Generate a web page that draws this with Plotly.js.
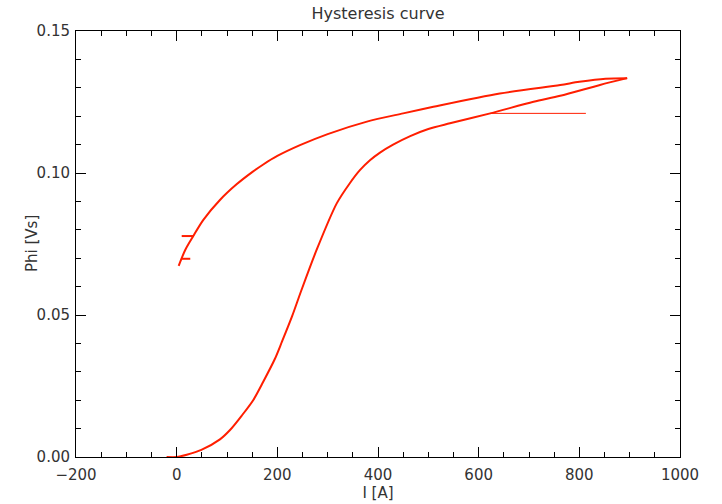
<!DOCTYPE html>
<html>
<head>
<meta charset="utf-8">
<script src="https://cdn.plot.ly/plotly-3.0.1.min.js"></script>
<style>html,body{margin:0;padding:0;background:#fff;}#chart{width:722px;height:504px;}</style>
</head>
<body>
<div id="chart"></div>
<script>
// Initial magnetisation branch (I [A], Phi [Vs])
const riseI   = [-20, 0, 20, 49, 86, 106, 129, 152, 172, 195, 209, 229, 248, 278, 318, 344, 364, 384, 404, 430, 464, 500, 543, 623, 709, 762, 841, 895];
const risePhi = [0, 0, 0.0008, 0.0025, 0.0062, 0.0095, 0.0145, 0.0200, 0.0265, 0.0345, 0.0405, 0.0494, 0.0588, 0.0729, 0.0893, 0.0964, 0.1010, 0.1045, 0.1072, 0.1100, 0.1130, 0.1155, 0.1175, 0.1210, 0.1251, 0.1272, 0.1310, 0.1334];
// Descending branch
const fallI   = [895, 852, 800, 762, 642, 510, 450, 378, 300, 245, 200, 172, 150, 119, 86, 53, 33, 17, 4];
const fallPhi = [0.1334, 0.1332, 0.1321, 0.1310, 0.1280, 0.1233, 0.1210, 0.1181, 0.1137, 0.1098, 0.1060, 0.1030, 0.1003, 0.0960, 0.0905, 0.0835, 0.0778, 0.0729, 0.0673];
// Small glitch segments
const glitch1I = [10, 33],  glitch1Phi = [0.0778, 0.0778];
const glitch2I = [10, 27],  glitch2Phi = [0.0698, 0.0698];
const flatI    = [623, 813], flatPhi   = [0.1210, 0.1210];
// Axis ticks
const xTicks = [-200, 0, 200, 400, 600, 800, 1000];
const yTicks = [0, 0.05, 0.10, 0.15];
const yTickText = ['0.00', '0.05', '0.10', '0.15'];

const red = 'rgb(255,30,0)';
const line = (x, y, w, shape) => ({x: x, y: y, type: 'scatter', mode: 'lines', line: {color: red, width: w, shape: shape || 'linear', smoothing: 0.8}, hoverinfo: 'skip', showlegend: false});

const data = [
  line(riseI, risePhi, 2, 'spline'),
  line(fallI, fallPhi, 2, 'spline'),
  line(glitch1I, glitch1Phi, 2),
  line(glitch2I, glitch2Phi, 2),
  line(flatI, flatPhi, 1)
];

const font = {family: 'DejaVu Sans, sans-serif', size: 15, color: '#333'};
const axisCommon = {
  showline: true, linecolor: '#000', linewidth: 1, mirror: 'allticks',
  ticks: 'inside', ticklen: 10, tickcolor: '#000', tickwidth: 1,
  showgrid: false, zeroline: false, tickfont: font
};

const layout = {
  width: 722, height: 504,
  margin: {l: 76, r: 42, t: 31, b: 47},
  paper_bgcolor: '#fff', plot_bgcolor: '#fff',
  font: font,
  title: {text: 'Hysteresis curve', font: {family: font.family, size: 16, color: '#333'}, x: 0.5, xref: 'paper', xanchor: 'center', y: 1 - 13/504, yref: 'container', yanchor: 'middle'},
  xaxis: Object.assign({}, axisCommon, {
    range: [-200, 1000], tickvals: xTicks, ticklabelstandoff: 4,
    minor: {dtick: 50, ticks: 'inside', ticklen: 5, tickcolor: '#000', showgrid: false},
    title: {text: 'I [A]', font: font, standoff: 1}
  }),
  yaxis: Object.assign({}, axisCommon, {
    range: [0, 0.15], tickvals: yTicks, ticktext: yTickText, ticklabelstandoff: 2,
    minor: {dtick: 0.01, ticks: 'inside', ticklen: 5, tickcolor: '#000', showgrid: false}
  }),
  annotations: [{
    text: 'Phi [Vs]', textangle: -90, font: font, showarrow: false,
    xref: 'paper', yref: 'paper', x: (32 - 76) / 604, y: 0.5, xanchor: 'center', yanchor: 'middle'
  }]
};

Plotly.newPlot('chart', data, layout, {staticPlot: true, displayModeBar: false});
</script>
</body>
</html>
